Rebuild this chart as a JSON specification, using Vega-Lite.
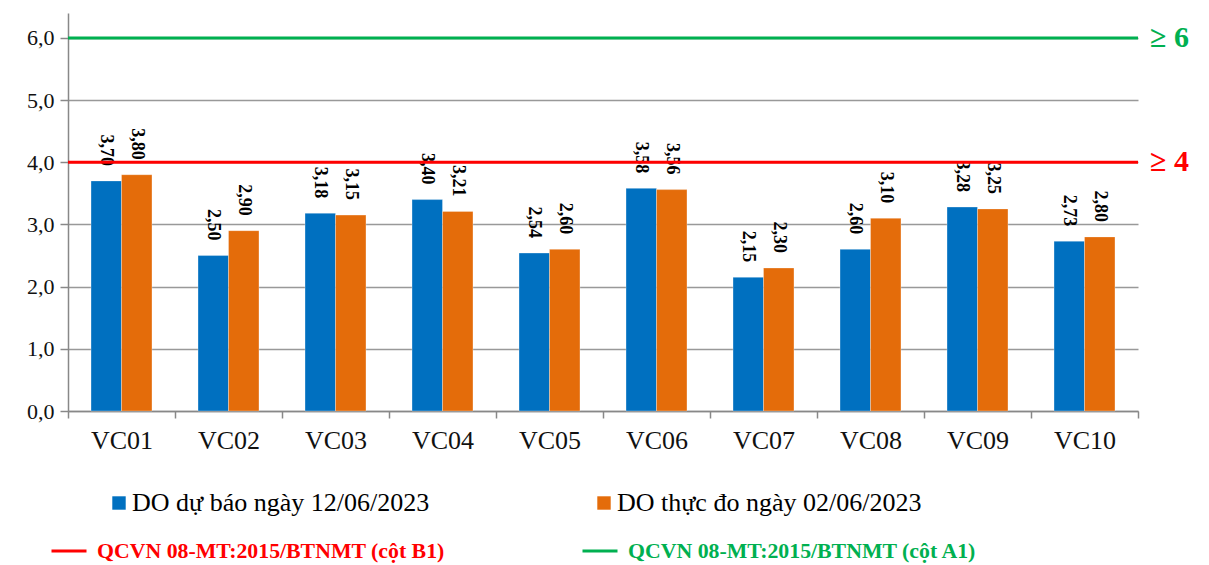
{
  "$schema": "https://vega.github.io/schema/vega-lite/v6.json",
  "width": 1070,
  "height": 398,
  "autosize": "none",
  "padding": {"left": 68, "top": 13, "right": 71, "bottom": 154},
  "config": {
    "locale": {"number": {"decimal": ",", "thousands": ".", "grouping": [3], "currency": ["", ""]}},
    "view": {"stroke": null},
    "font": "'Liberation Serif', 'DejaVu Serif', serif"
  },
  "datasets": {
    "bars": [
      {"station": "VC01", "series": "DO dự báo ngày 12/06/2023", "value": 3.70},
      {"station": "VC01", "series": "DO thực đo ngày 02/06/2023", "value": 3.80},
      {"station": "VC02", "series": "DO dự báo ngày 12/06/2023", "value": 2.50},
      {"station": "VC02", "series": "DO thực đo ngày 02/06/2023", "value": 2.90},
      {"station": "VC03", "series": "DO dự báo ngày 12/06/2023", "value": 3.18},
      {"station": "VC03", "series": "DO thực đo ngày 02/06/2023", "value": 3.15},
      {"station": "VC04", "series": "DO dự báo ngày 12/06/2023", "value": 3.40},
      {"station": "VC04", "series": "DO thực đo ngày 02/06/2023", "value": 3.21},
      {"station": "VC05", "series": "DO dự báo ngày 12/06/2023", "value": 2.54},
      {"station": "VC05", "series": "DO thực đo ngày 02/06/2023", "value": 2.60},
      {"station": "VC06", "series": "DO dự báo ngày 12/06/2023", "value": 3.58},
      {"station": "VC06", "series": "DO thực đo ngày 02/06/2023", "value": 3.56},
      {"station": "VC07", "series": "DO dự báo ngày 12/06/2023", "value": 2.15},
      {"station": "VC07", "series": "DO thực đo ngày 02/06/2023", "value": 2.30},
      {"station": "VC08", "series": "DO dự báo ngày 12/06/2023", "value": 2.60},
      {"station": "VC08", "series": "DO thực đo ngày 02/06/2023", "value": 3.10},
      {"station": "VC09", "series": "DO dự báo ngày 12/06/2023", "value": 3.28},
      {"station": "VC09", "series": "DO thực đo ngày 02/06/2023", "value": 3.25},
      {"station": "VC10", "series": "DO dự báo ngày 12/06/2023", "value": 2.73},
      {"station": "VC10", "series": "DO thực đo ngày 02/06/2023", "value": 2.80}
    ],
    "limits": [
      {"name": "QCVN 08-MT:2015/BTNMT (cột B1)", "value": 4, "sym": "≥ 4"},
      {"name": "QCVN 08-MT:2015/BTNMT (cột A1)", "value": 6, "sym": "≥ 6"}
    ]
  },
  "layer": [
    {
      "data": {"name": "bars"},
      "mark": {"type": "bar", "stroke": "#ffffff", "strokeWidth": 0.5, "strokeOpacity": 0.6},
      "encoding": {
        "x": {
          "field": "station", "type": "nominal",
          "scale": {"paddingInner": 0, "paddingOuter": 0},
          "axis": {
            "title": null, "labelAngle": 0, "labelFont": "'Liberation Serif', 'DejaVu Serif', serif", "labelFontSize": 26,
            "labelColor": "#111111", "labelPadding": 9, "tickBand": "extent", "tickColor": "#888888",
            "tickSize": 7, "tickWidth": 1.5, "domainColor": "#888888", "domainWidth": 1.5, "grid": false
          }
        },
        "xOffset": {
          "field": "series",
          "scale": {"domain": ["DO dự báo ngày 12/06/2023", "DO thực đo ngày 02/06/2023"], "paddingInner": 0, "paddingOuter": 0.755}
        },
        "y": {
          "field": "value", "type": "quantitative", "title": null,
          "scale": {"domain": [0, 6.4], "nice": false},
          "axis": {
            "values": [0, 1, 2, 3, 4, 5, 6], "format": ".1f", "labelFont": "'Liberation Serif', 'DejaVu Serif', serif",
            "labelFontSize": 22, "labelColor": "#111111", "labelPadding": 6, "tickColor": "#888888",
            "tickSize": 8, "tickWidth": 1.5, "domainColor": "#888888", "domainWidth": 1.5,
            "gridColor": "#999999", "gridWidth": 1.5
          }
        },
        "color": {
          "field": "series", "type": "nominal",
          "scale": {"domain": ["DO dự báo ngày 12/06/2023", "DO thực đo ngày 02/06/2023"], "range": ["#0070C0", "#E46C0A"]},
          "legend": {
            "orient": "none", "legendX": 38, "legendY": 477, "direction": "horizontal", "title": null,
            "symbolType": "square", "symbolSize": 180, "symbolStrokeWidth": 0, "symbolOpacity": 1,
            "labelFont": "'Liberation Serif', 'DejaVu Serif', serif", "labelFontSize": 26, "labelColor": "#000000",
            "labelOffset": 0, "columnPadding": 161, "padding": 0, "labelLimit": 700
          }
        }
      }
    },
    {
      "data": {"name": "bars"},
      "mark": {"type": "text", "angle": 90, "align": "right", "baseline": "middle", "dx": -15, "fontSize": 18, "fontWeight": "bold", "font": "'Liberation Serif', 'DejaVu Serif', serif", "color": "#000000"},
      "encoding": {
        "x": {"field": "station", "type": "nominal"},
        "xOffset": {"field": "series"},
        "y": {"field": "value", "type": "quantitative", "title": null},
        "text": {"field": "value", "type": "quantitative", "format": ".2f"}
      }
    },
    {
      "data": {"name": "limits"},
      "mark": {"type": "rule", "strokeWidth": 3},
      "encoding": {
        "y": {"field": "value", "type": "quantitative", "title": null},
        "stroke": {
          "field": "name", "type": "nominal",
          "scale": {"domain": ["QCVN 08-MT:2015/BTNMT (cột B1)", "QCVN 08-MT:2015/BTNMT (cột A1)"], "range": ["#FF0000", "#00B050"]},
          "legend": {
            "orient": "none", "legendX": -18, "legendY": 519, "direction": "horizontal", "title": null,
            "symbolType": "stroke", "symbolSize": 1225, "symbolStrokeWidth": 3,
            "labelFont": "'Liberation Serif', 'DejaVu Serif', serif", "labelFontSize": 21.8, "labelFontWeight": "bold",
            "labelOffset": 9, "columnPadding": 131, "padding": 0, "labelLimit": 700,
            "encode": {"labels": {"update": {"fill": {"signal": "indexof(datum.value, 'B1') >= 0 ? '#FF0000' : '#00B050'"}}}}
          }
        }
      }
    },
    {
      "data": {"name": "limits"},
      "mark": {"type": "text", "align": "left", "baseline": "middle", "dx": 12, "fontSize": 30, "fontWeight": "bold", "font": "'Liberation Serif', 'DejaVu Serif', serif"},
      "encoding": {
        "x": {"value": "width"},
        "y": {"field": "value", "type": "quantitative", "title": null},
        "text": {"field": "sym"},
        "color": {"condition": {"test": "datum.value == 4", "value": "#FF0000"}, "value": "#00B050"}
      }
    }
  ]
}
